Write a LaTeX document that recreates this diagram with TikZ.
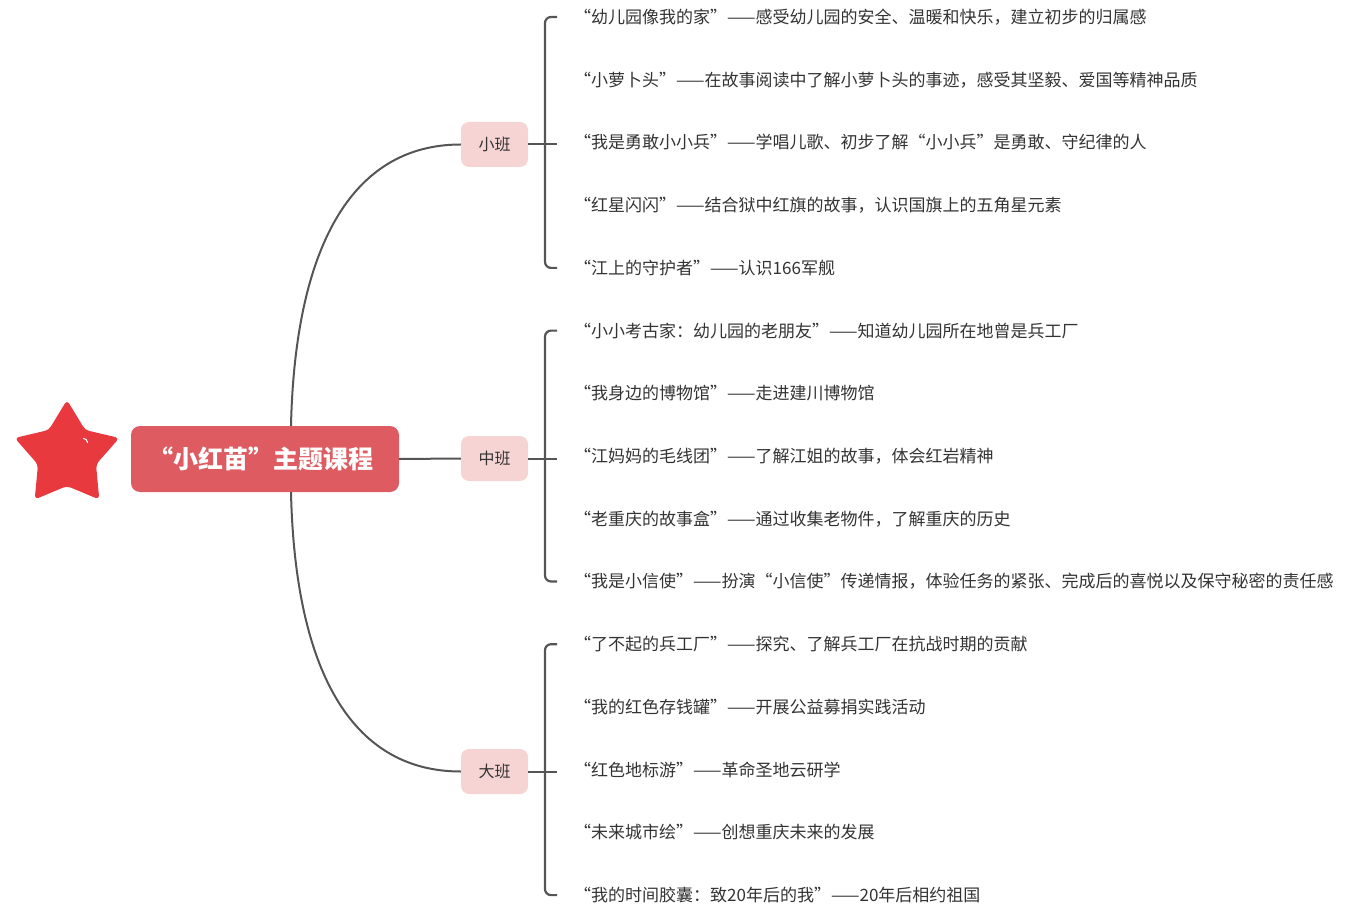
\documentclass[tikz,border=0pt]{standalone}
\usepackage{fontspec}
\setmainfont{Noto Sans CJK SC}
\definecolor{rootred}{HTML}{DE5C61}
\definecolor{branchpink}{HTML}{F7D4D4}
\definecolor{starred}{HTML}{E8393E}
\definecolor{linegray}{HTML}{555555}
\definecolor{txtgray}{HTML}{333333}
\tikzset{
  rootbox/.style={fill=rootred, rounded corners=9pt, minimum width=268pt, minimum height=66pt, text=white, font=\fontsize{25}{30}\selectfont\bfseries, inner sep=0pt},
  branchbox/.style={fill=branchpink, rounded corners=8pt, minimum width=67pt, minimum height=45pt, text=txtgray, font=\fontsize{16}{19}\selectfont, inner sep=0pt},
  leaf/.style={anchor=west, inner sep=0pt, text=txtgray, font=\fontsize{17}{20}\selectfont},
  conn/.style={draw=linegray, line width=2pt},
  brk/.style={draw=linegray, line width=2.2pt, rounded corners=6pt},
}
\begin{document}
\begin{tikzpicture}[x=1pt,y=-1pt]
\useasboundingbox (0,0) rectangle (1347,912);
% star
\fill[starred, rounded corners=4pt] (67,400) -- (85.2,430) -- (119.3,438) -- (96,464.5) -- (99.3,499.5) -- (67,486) -- (34.7,499.5) -- (38,464.5) -- (14.7,438) -- (48.8,430) -- cycle;
\draw[white, line width=1.1pt, line cap=round] (83.5,438.5) .. controls (86,438.5) and (87,440) .. (87.5,442.5);
% root
\node[rootbox] (root) at (265,459) {\hspace*{-8pt}“小红苗”主题课程};
% branches
\node[branchbox] (xb) at (494.5,144.5) {小班};
\node[branchbox] (zb) at (494.5,458.5) {中班};
\node[branchbox] (db) at (494.5,771.5) {大班};
% leaves
\node[leaf] (s1) at (574,17) {“幼儿园像我的家”——感受幼儿园的安全、温暖和快乐，建立初步的归属感};
\node[leaf] (s2) at (574,79.7) {“小萝卜头”——在故事阅读中了解小萝卜头的事迹，感受其坚毅、爱国等精神品质};
\node[leaf] (s3) at (574,142.4) {“我是勇敢小小兵”——学唱儿歌、初步了解“小小兵”是勇敢、守纪律的人};
\node[leaf] (s4) at (574,205.2) {“红星闪闪”——结合狱中红旗的故事，认识国旗上的五角星元素};
\node[leaf] (s5) at (574,267.9) {“江上的守护者”——认识166军舰};
\node[leaf] (m1) at (574,330.6) {“小小考古家：幼儿园的老朋友”——知道幼儿园所在地曾是兵工厂};
\node[leaf] (m2) at (574,393.3) {“我身边的博物馆”——走进建川博物馆};
\node[leaf] (m3) at (574,456.0) {“江妈妈的毛线团”——了解江姐的故事，体会红岩精神};
\node[leaf] (m4) at (574,518.8) {“老重庆的故事盒”——通过收集老物件，了解重庆的历史};
\node[leaf] (m5) at (574,581.5) {“我是小信使”——扮演“小信使”传递情报，体验任务的紧张、完成后的喜悦以及保守秘密的责任感};
\node[leaf] (d1) at (574,644.2) {“了不起的兵工厂”——探究、了解兵工厂在抗战时期的贡献};
\node[leaf] (d2) at (574,706.9) {“我的红色存钱罐”——开展公益募捐实践活动};
\node[leaf] (d3) at (574,769.6) {“红色地标游”——革命圣地云研学};
\node[leaf] (d4) at (574,832.4) {“未来城市绘”——创想重庆未来的发展};
\node[leaf] (d5) at (574,895.1) {“我的时间胶囊：致20年后的我”——20年后相约祖国};
% root connectors
\draw[conn] ([xshift=26pt]root.north) .. controls (295,250) and (350,144.5) .. (xb.west);
\draw[conn] (root.east) -- (zb.west);
\draw[conn] ([xshift=26pt]root.south) .. controls (295,668) and (350,771.5) .. (db.west);
% brackets
\foreach \a/\b/\c in {s1/s5/xb, m1/m5/zb, d1/d5/db}{
  \draw[brk] ([xshift=-17pt]\a.west) -| ([xshift=-29pt]\b.west) -- ([xshift=-17pt]\b.west);
  \draw[conn] (\c.east) -- ++(29,0);
}
\end{tikzpicture}
\end{document}
